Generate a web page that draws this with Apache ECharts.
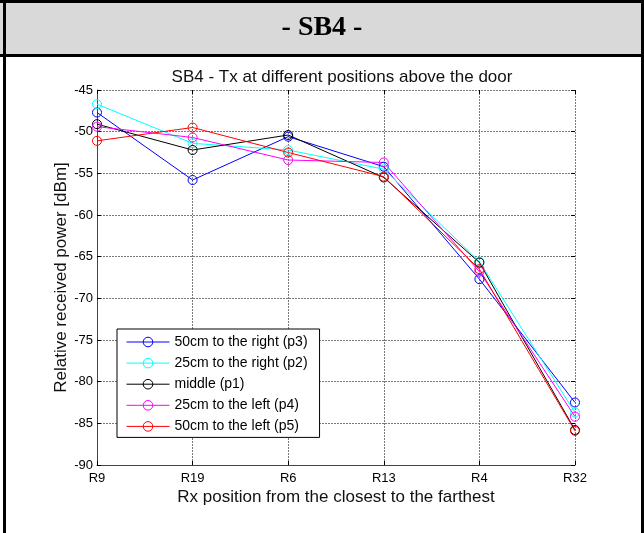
<!DOCTYPE html>
<html><head><meta charset="utf-8">
<script src="https://cdn.jsdelivr.net/npm/echarts@6/dist/echarts.min.js"></script>
<style>html,body{margin:0;padding:0;background:#fff}#c{width:644px;height:533px}</style>
</head><body><div id="c"></div>
<script>
const categories = ['R9','R19','R6','R13','R4','R32'];
const yTicks = [-90,-85,-80,-75,-70,-65,-60,-55,-50,-45];
const p3 = [-47.7,-55.8,-50.6,-54.2,-67.7,-82.5];
const p2 = [-46.7,-51.4,-52.2,-54.5,-65.6,-83.7];
const p1 = [-49.1,-52.2,-50.4,-55.5,-65.7,-85.8];
const p4 = [-49.4,-50.7,-53.4,-53.7,-66.8,-84.2];
const p5 = [-51.1,-49.5,-52.5,-55.4,-66.5,-85.9];
const names = ['50cm to the right (p3)','25cm to the right (p2)','middle (p1)','25cm to the left (p4)','50cm to the left (p5)'];
const colors = ['#0000ff','#00ffff','#000000','#ff00ff','#ff0000'];
const seriesData = [p3,p2,p1,p4,p5];

const chart = echarts.init(document.getElementById('c'), null, {renderer:'canvas'});
const font = 'Liberation Sans, Arial, sans-serif';
const gridLine = {show:true, lineStyle:{color:'#7a7a7a', width:1, type:[2,1]}};
chart.setOption({
  animation:false,
  backgroundColor:'#fff',
  title:{text:'SB4 - Tx at different positions above the door', left:337, textAlign:'center', top:64,
    textStyle:{fontFamily:font, fontSize:17, fontWeight:'normal', color:'#111'}},
  grid:{left:97, right:69, top:90, bottom:68},
  legend:{orient:'vertical', left:117, top:329, data:names, itemWidth:43, itemHeight:12, itemGap:7.1,
    padding:[6,12,4,9], borderColor:'#000', borderWidth:1, backgroundColor:'#fff',
    lineStyle:{width:1}, itemStyle:{borderWidth:1},
    textStyle:{fontFamily:font, fontSize:14, color:'#000'}, z:10},
  xAxis:[{type:'category', data:categories, boundaryGap:false,
    name:'Rx position from the closest to the farthest', nameLocation:'middle', nameGap:24, nameMoveOverlap:false,
    nameTextStyle:{fontFamily:font, fontSize:17, color:'#111'},
    axisLine:{lineStyle:{color:'#444', width:1}}, axisTick:{inside:true, length:4, lineStyle:{color:'#000'}},
    axisLabel:{fontFamily:font, fontSize:13, color:'#000', margin:7}, splitLine:gridLine},
    {type:'category', data:categories, boundaryGap:false, position:'top',
    axisLine:{show:false}, axisTick:{inside:true, length:4, lineStyle:{color:'#000'}}, axisLabel:{show:false}, splitLine:{show:false}}],
  yAxis:[{type:'value', min:-90, max:-45, interval:5,
    name:'Relative received power [dBm]', nameLocation:'middle', nameGap:27, nameRotate:90, nameMoveOverlap:false,
    nameTextStyle:{fontFamily:font, fontSize:17, color:'#111'},
    axisLine:{show:true, lineStyle:{color:'#444', width:1}}, axisTick:{show:true, inside:true, length:4, lineStyle:{color:'#000'}},
    axisLabel:{fontFamily:font, fontSize:13, color:'#000', margin:4, customValues:yTicks}, splitLine:gridLine},
    {type:'value', min:-90, max:-45, interval:5, position:'right',
    axisLine:{show:false}, axisTick:{show:true, inside:true, length:4, lineStyle:{color:'#000'}}, axisLabel:{show:false}, splitLine:{show:false}}],
  series: seriesData.map((d,i)=>({name:names[i], type:'line', data:d, symbol:'circle', symbolSize:9,
    itemStyle:{color:'rgba(255,255,255,0)', borderColor:colors[i], borderWidth:1},
    lineStyle:{color:colors[i], width:1}})),
  graphic:[
    {type:'rect', shape:{x:0,y:0,width:644,height:55}, style:{fill:'#d9d9d9'}, z:-10, silent:true},
    {type:'rect', shape:{x:0,y:54,width:644,height:3}, style:{fill:'#000'}, z:100},
    {type:'rect', shape:{x:0,y:0,width:644,height:3}, style:{fill:'#000'}, z:100},
    {type:'rect', shape:{x:3,y:0,width:3,height:533}, style:{fill:'#000'}, z:100},
    {type:'rect', shape:{x:641,y:0,width:3,height:533}, style:{fill:'#000'}, z:100},
    {type:'text', x:322, y:28, style:{text:'- SB4 -', fontFamily:'Liberation Serif, Times New Roman, serif', fontWeight:'bold', fontSize:28,
      fill:'#000', textAlign:'center', textVerticalAlign:'middle'}, z:100}
  ]
});
</script></body></html>
